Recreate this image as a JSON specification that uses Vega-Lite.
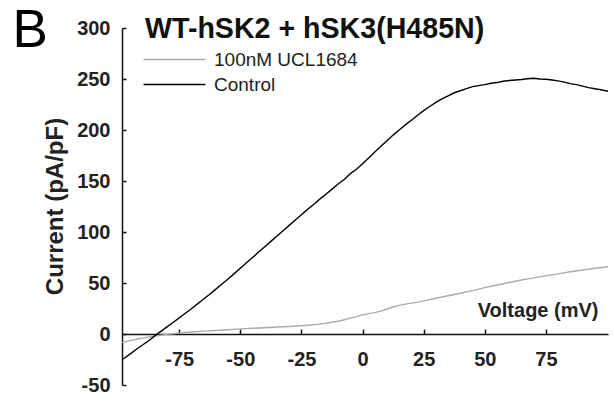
{
  "$schema": "https://vega.github.io/schema/vega-lite/v6.json",
  "width": 486,
  "height": 357,
  "autosize": {"type": "none"},
  "padding": {"left": 122, "top": 28, "right": 6, "bottom": 17},
  "background": "white",
  "config": {
    "view": {"stroke": null},
    "font": "Liberation Sans"
  },
  "title": {
    "text": "WT-hSK2 + hSK3(H485N)",
    "anchor": "start",
    "frame": "group",
    "dx": 23,
    "dy": 62,
    "offset": 0,
    "baseline": "alphabetic",
    "fontSize": 28.6,
    "fontWeight": "bold",
    "color": "#111"
  },
  "layer": [
    {
      "data": {
        "values": [
          {"v": -98.4, "i": -8.2, "s": "100nM UCL1684"},
          {"v": -95, "i": -6.5, "s": "100nM UCL1684"},
          {"v": -92.5, "i": -5.2, "s": "100nM UCL1684"},
          {"v": -90, "i": -4.0, "s": "100nM UCL1684"},
          {"v": -87.5, "i": -3.0, "s": "100nM UCL1684"},
          {"v": -85, "i": -2.0, "s": "100nM UCL1684"},
          {"v": -82.5, "i": -1.2, "s": "100nM UCL1684"},
          {"v": -80, "i": -0.4, "s": "100nM UCL1684"},
          {"v": -77.5, "i": 0.3, "s": "100nM UCL1684"},
          {"v": -75, "i": 1.0, "s": "100nM UCL1684"},
          {"v": -70, "i": 2.0, "s": "100nM UCL1684"},
          {"v": -65, "i": 2.8, "s": "100nM UCL1684"},
          {"v": -60, "i": 3.5, "s": "100nM UCL1684"},
          {"v": -55, "i": 4.2, "s": "100nM UCL1684"},
          {"v": -50, "i": 5.0, "s": "100nM UCL1684"},
          {"v": -45, "i": 5.6, "s": "100nM UCL1684"},
          {"v": -40, "i": 6.2, "s": "100nM UCL1684"},
          {"v": -35, "i": 6.8, "s": "100nM UCL1684"},
          {"v": -30, "i": 7.4, "s": "100nM UCL1684"},
          {"v": -25, "i": 8.1, "s": "100nM UCL1684"},
          {"v": -20, "i": 9.0, "s": "100nM UCL1684"},
          {"v": -15, "i": 10.5, "s": "100nM UCL1684"},
          {"v": -10, "i": 12.5, "s": "100nM UCL1684"},
          {"v": -7.5, "i": 14.0, "s": "100nM UCL1684"},
          {"v": -5, "i": 15.5, "s": "100nM UCL1684"},
          {"v": -2.5, "i": 17.0, "s": "100nM UCL1684"},
          {"v": 0, "i": 18.8, "s": "100nM UCL1684"},
          {"v": 2.5, "i": 20.0, "s": "100nM UCL1684"},
          {"v": 5, "i": 21.0, "s": "100nM UCL1684"},
          {"v": 7.5, "i": 22.5, "s": "100nM UCL1684"},
          {"v": 10, "i": 24.5, "s": "100nM UCL1684"},
          {"v": 12.5, "i": 26.5, "s": "100nM UCL1684"},
          {"v": 15, "i": 28.0, "s": "100nM UCL1684"},
          {"v": 17.5, "i": 29.3, "s": "100nM UCL1684"},
          {"v": 20, "i": 30.3, "s": "100nM UCL1684"},
          {"v": 22.5, "i": 31.3, "s": "100nM UCL1684"},
          {"v": 25, "i": 32.5, "s": "100nM UCL1684"},
          {"v": 30, "i": 35.0, "s": "100nM UCL1684"},
          {"v": 35, "i": 37.5, "s": "100nM UCL1684"},
          {"v": 40, "i": 40.0, "s": "100nM UCL1684"},
          {"v": 45, "i": 42.5, "s": "100nM UCL1684"},
          {"v": 50, "i": 45.5, "s": "100nM UCL1684"},
          {"v": 55, "i": 48.0, "s": "100nM UCL1684"},
          {"v": 60, "i": 50.5, "s": "100nM UCL1684"},
          {"v": 65, "i": 53.0, "s": "100nM UCL1684"},
          {"v": 70, "i": 55.0, "s": "100nM UCL1684"},
          {"v": 75, "i": 57.0, "s": "100nM UCL1684"},
          {"v": 80, "i": 59.0, "s": "100nM UCL1684"},
          {"v": 85, "i": 61.0, "s": "100nM UCL1684"},
          {"v": 90, "i": 62.8, "s": "100nM UCL1684"},
          {"v": 95, "i": 64.5, "s": "100nM UCL1684"},
          {"v": 100.4, "i": 66.0, "s": "100nM UCL1684"},
          {"v": -98.4, "i": -25.2, "s": "Control"},
          {"v": -95, "i": -19.5, "s": "Control"},
          {"v": -92.5, "i": -15.0, "s": "Control"},
          {"v": -90, "i": -10.8, "s": "Control"},
          {"v": -87.5, "i": -6.6, "s": "Control"},
          {"v": -85, "i": -1.8, "s": "Control"},
          {"v": -82.5, "i": 2.6, "s": "Control"},
          {"v": -80, "i": 7.0, "s": "Control"},
          {"v": -77.5, "i": 11.3, "s": "Control"},
          {"v": -75, "i": 15.8, "s": "Control"},
          {"v": -72.5, "i": 20.3, "s": "Control"},
          {"v": -70, "i": 24.8, "s": "Control"},
          {"v": -67.5, "i": 29.5, "s": "Control"},
          {"v": -65, "i": 34.3, "s": "Control"},
          {"v": -62.5, "i": 39.0, "s": "Control"},
          {"v": -60, "i": 44.0, "s": "Control"},
          {"v": -57.5, "i": 49.0, "s": "Control"},
          {"v": -55, "i": 54.0, "s": "Control"},
          {"v": -52.5, "i": 59.2, "s": "Control"},
          {"v": -50, "i": 64.5, "s": "Control"},
          {"v": -47.5, "i": 69.8, "s": "Control"},
          {"v": -45, "i": 75.0, "s": "Control"},
          {"v": -42.5, "i": 80.3, "s": "Control"},
          {"v": -40, "i": 85.6, "s": "Control"},
          {"v": -37.5, "i": 90.8, "s": "Control"},
          {"v": -35, "i": 96.0, "s": "Control"},
          {"v": -32.5, "i": 101.3, "s": "Control"},
          {"v": -30, "i": 106.5, "s": "Control"},
          {"v": -27.5, "i": 111.8, "s": "Control"},
          {"v": -25, "i": 117.0, "s": "Control"},
          {"v": -22.5, "i": 122.2, "s": "Control"},
          {"v": -20, "i": 127.0, "s": "Control"},
          {"v": -17.5, "i": 132.2, "s": "Control"},
          {"v": -15, "i": 137.0, "s": "Control"},
          {"v": -12.5, "i": 142.0, "s": "Control"},
          {"v": -10, "i": 147.0, "s": "Control"},
          {"v": -7.5, "i": 151.5, "s": "Control"},
          {"v": -5, "i": 157.2, "s": "Control"},
          {"v": -2.5, "i": 161.5, "s": "Control"},
          {"v": 0, "i": 167.0, "s": "Control"},
          {"v": 2.5, "i": 172.5, "s": "Control"},
          {"v": 5, "i": 178.5, "s": "Control"},
          {"v": 7.5, "i": 184.0, "s": "Control"},
          {"v": 10, "i": 189.5, "s": "Control"},
          {"v": 12.5, "i": 195.0, "s": "Control"},
          {"v": 15, "i": 200.0, "s": "Control"},
          {"v": 17.5, "i": 205.0, "s": "Control"},
          {"v": 20, "i": 209.5, "s": "Control"},
          {"v": 22.5, "i": 214.5, "s": "Control"},
          {"v": 25, "i": 219.0, "s": "Control"},
          {"v": 27.5, "i": 223.0, "s": "Control"},
          {"v": 30, "i": 227.0, "s": "Control"},
          {"v": 32.5, "i": 230.5, "s": "Control"},
          {"v": 35, "i": 233.5, "s": "Control"},
          {"v": 37.5, "i": 236.5, "s": "Control"},
          {"v": 40, "i": 238.5, "s": "Control"},
          {"v": 42.5, "i": 240.5, "s": "Control"},
          {"v": 45, "i": 242.5, "s": "Control"},
          {"v": 47.5, "i": 243.5, "s": "Control"},
          {"v": 50, "i": 244.5, "s": "Control"},
          {"v": 52.5, "i": 245.8, "s": "Control"},
          {"v": 55, "i": 246.5, "s": "Control"},
          {"v": 57.5, "i": 247.8, "s": "Control"},
          {"v": 60, "i": 248.5, "s": "Control"},
          {"v": 62.5, "i": 249.0, "s": "Control"},
          {"v": 65, "i": 249.5, "s": "Control"},
          {"v": 67.5, "i": 250.3, "s": "Control"},
          {"v": 70, "i": 250.8, "s": "Control"},
          {"v": 72.5, "i": 250.0, "s": "Control"},
          {"v": 75, "i": 249.8, "s": "Control"},
          {"v": 77.5, "i": 249.0, "s": "Control"},
          {"v": 80, "i": 248.2, "s": "Control"},
          {"v": 82.5, "i": 247.0, "s": "Control"},
          {"v": 85, "i": 245.5, "s": "Control"},
          {"v": 87.5, "i": 244.5, "s": "Control"},
          {"v": 90, "i": 243.0, "s": "Control"},
          {"v": 92.5, "i": 241.5, "s": "Control"},
          {"v": 95, "i": 240.5, "s": "Control"},
          {"v": 97.5, "i": 239.5, "s": "Control"},
          {"v": 100.4, "i": 238.0, "s": "Control"}
        ]
      },
      "mark": {"type": "line", "strokeWidth": 1.4},
      "encoding": {
        "x": {
          "field": "v",
          "type": "quantitative",
          "scale": {"domain": [-98.4, 100.4], "nice": false, "zero": false},
          "axis": {
            "title": "Voltage (mV)",
            "values": [-75, -50, -25, 0, 25, 50, 75],
            "labelExpr": "replace(datum.label, '−', '-')",
            "offset": -51,
            "grid": false,
            "tickSize": -5,
            "tickWidth": 1.5,
            "tickColor": "#111",
            "domainColor": "#111",
            "domainWidth": 1.5,
            "labelFontSize": 20,
            "labelFontWeight": "bold",
            "labelColor": "#222",
            "labelPadding": 20,
            "titleFontSize": 20,
            "titleFontWeight": "bold",
            "titleColor": "#222",
            "titleAnchor": "end",
            "titleAlign": "right",
            "titleBaseline": "alphabetic",
            "titleX": 476,
            "titleY": -18
          }
        },
        "y": {
          "field": "i",
          "type": "quantitative",
          "scale": {"domain": [-50, 300], "nice": false, "zero": false},
          "axis": {
            "title": "Current (pA/pF)",
            "values": [-50, 0, 50, 100, 150, 200, 250, 300],
            "labelExpr": "replace(datum.label, '−', '-')",
            "grid": false,
            "tickSize": -4,
            "tickWidth": 1.5,
            "tickColor": "#111",
            "domainColor": "#111",
            "domainWidth": 1.5,
            "labelFontSize": 20,
            "labelFontWeight": "bold",
            "labelColor": "#222",
            "labelPadding": 16,
            "titleFontSize": 24,
            "titleFontWeight": "bold",
            "titleColor": "#222",
            "titleAlign": "center",
            "titleBaseline": "middle",
            "titleX": -67,
            "titleY": 178
          }
        },
        "color": {
          "field": "s",
          "type": "nominal",
          "scale": {"domain": ["100nM UCL1684", "Control"], "range": ["#ababab", "#000000"]},
          "legend": {
            "title": null,
            "orient": "none",
            "legendX": 43,
            "legendY": 22,
            "padding": 0,
            "symbolType": "M-4,0H4",
            "symbolSize": 240,
            "symbolStrokeWidth": 1.3,
            "labelFontSize": 19,
            "labelColor": "#222",
            "labelOffset": 30,
            "rowPadding": 5
          }
        }
      }
    },
    {
      "data": {"values": [{"t": "B"}]},
      "mark": {"type": "text", "fontSize": 53, "align": "center", "baseline": "alphabetic", "color": "#000"},
      "encoding": {
        "x": {"datum": -136, "type": "quantitative"},
        "y": {"datum": 281.5, "type": "quantitative"},
        "text": {"field": "t"}
      }
    }
  ]
}
